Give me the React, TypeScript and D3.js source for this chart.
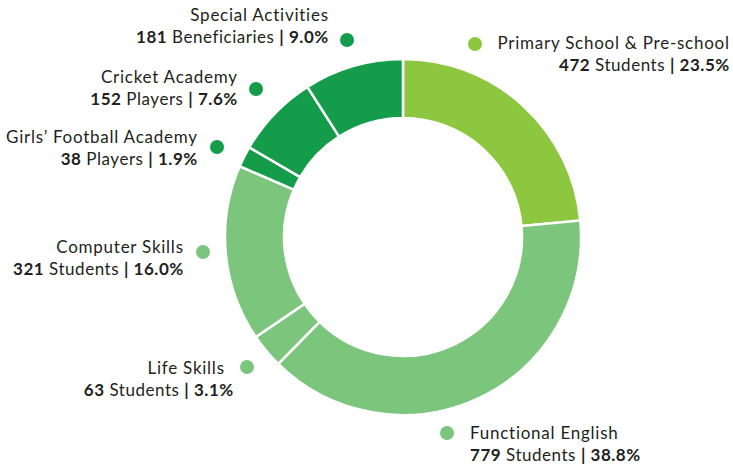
import React from "react";
import * as d3 from "d3";

const categories = [
  "Primary School & Pre-school",
  "Functional English",
  "Life Skills",
  "Computer Skills",
  "Girls\u2019 Football Academy",
  "Cricket Academy",
  "Special Activities",
];
const values = [472, 779, 63, 321, 38, 152, 181];
const units = ["Students", "Students", "Students", "Students", "Players", "Players", "Beneficiaries"];
const groups = ["light", "mid", "mid", "mid", "dark", "dark", "dark"];

const colorMap: Record<string, string> = {
  light: "#8dc63f",
  mid: "#7bc57c",
  dark: "#149c4a",
};

// label layout: anchor x for line1, line2, baseline1, dot position, text anchor
const layout = [
  { x1: 729, x2: 729, y: 49, dx: 475, dy: 44, anchor: "end" },
  { x1: 470, x2: 470, y: 439, dx: 447, dy: 433, anchor: "start" },
  { x1: 224, x2: 233, y: 374, dx: 247, dy: 367, anchor: "end" },
  { x1: 183, x2: 183, y: 253, dx: 203, dy: 252, anchor: "end" },
  { x1: 197, x2: 197, y: 143, dx: 217, dy: 147, anchor: "end" },
  { x1: 237, x2: 237, y: 83, dx: 256, dy: 89, anchor: "end" },
  { x1: 328, x2: 328, y: 21, dx: 347, dy: 40, anchor: "end" },
];

const W = 733;
const H = 465;
const cx = 403;
const cy = 237;
const rOuter = 178;
const rInner = 119;
const FONT = "Lato, 'Open Sans', sans-serif";
const TEXT = "#231f20";
const LS = 0.75;

export default function App() {
  const total = d3.sum(values);
  const pie = d3.pie<number>().sort(null).value((d) => d);
  const arcs = pie(values);
  const arc = d3.arc<d3.PieArcDatum<number>>().innerRadius(rInner).outerRadius(rOuter);

  return (
    <svg
      width={W}
      height={H}
      style={{ position: "absolute", left: 0, top: 0, background: "#fff" }}
      fontFamily={FONT}
    >
      <g transform={`translate(${cx},${cy})`}>
        {arcs.map((a, i) => (
          <path
            key={i}
            d={arc(a) || ""}
            fill={colorMap[groups[i]]}
            stroke="#fff"
            strokeWidth={2.5}
          />
        ))}
      </g>
      {categories.map((c, i) => {
        const L = layout[i];
        const pct = ((values[i] / total) * 100).toFixed(1) + "%";
        const endAdj = L.anchor === "end" ? LS : 0;
        return (
          <g key={c}>
            <circle cx={L.dx} cy={L.dy} r={7} fill={colorMap[groups[i]]} />
            <text
              x={L.x1 + endAdj}
              y={L.y}
              textAnchor={L.anchor}
              fontSize={17}
              letterSpacing={LS}
              fill={TEXT}
            >
              {c}
            </text>
            <text
              x={L.x2 + endAdj}
              y={L.y + 22}
              textAnchor={L.anchor}
              fontSize={17}
              letterSpacing={LS * 0.7}
              fill={TEXT}
            >
              <tspan fontWeight={700}>{values[i]}</tspan>
              <tspan> {units[i]} </tspan>
              <tspan fontWeight={700}>| {pct}</tspan>
            </text>
          </g>
        );
      })}
    </svg>
  );
}
